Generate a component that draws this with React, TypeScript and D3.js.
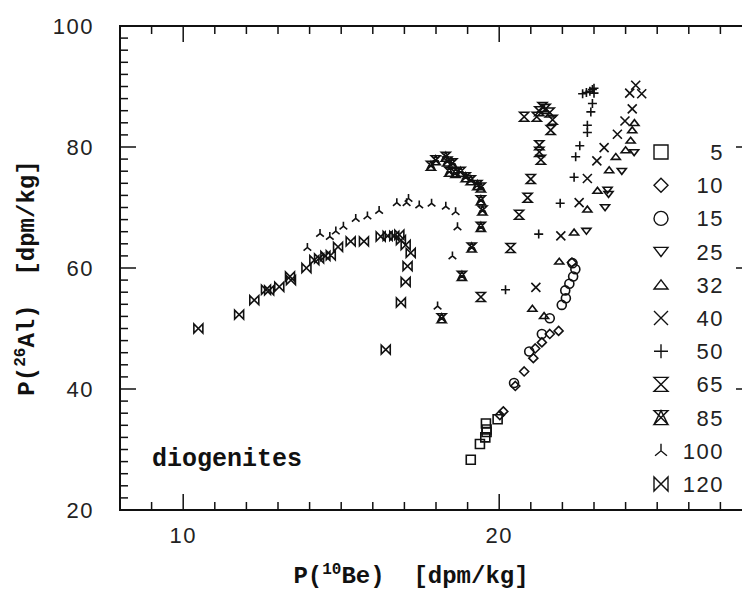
import { useEffect, useRef } from "react";
import * as d3 from "d3";

const W = 742;
const H = 590;

// radius (cm) of each series, legend order
const radii = [5, 10, 15, 25, 32, 40, 50, 65, 85, 100, 120];
const symbols = ["square", "diamond", "circle", "tdown", "tup", "cross", "plus", "hour", "hourtri", "tripod", "bowtie"];

// [P(10Be), P(26Al)]
const s5 = [[19.1, 28.3], [19.39, 30.9], [19.56, 32.0], [19.6, 32.9], [19.6, 33.3], [19.58, 34.3], [19.95, 35.0]];
const s10 = [[20.02, 35.7], [20.13, 36.3], [20.51, 40.5], [20.79, 42.9], [21.08, 45.1], [21.14, 46.7], [21.35, 47.7], [21.6, 49.1], [21.88, 49.6], [22.3, 60.9]];
const s15 = [[20.47, 41.0], [20.95, 46.2], [21.35, 49.1], [21.6, 51.7], [21.98, 53.9], [22.11, 55.0], [22.09, 56.3], [22.22, 57.4], [22.34, 58.6], [22.41, 59.8], [22.32, 60.8]];
const s25 = [[22.76, 66.1], [23.35, 70.0], [23.46, 72.2], [23.43, 72.9], [23.88, 76.0], [24.27, 79.1]];
const s32 = [[21.05, 53.3], [21.42, 52.1], [21.9, 61.1], [22.37, 65.9], [22.79, 69.7], [23.11, 72.8], [23.48, 76.2], [23.69, 78.4], [24.0, 79.5], [24.16, 81.1], [24.21, 82.8], [24.28, 84.0]];
const s40 = [[21.16, 56.8], [21.95, 65.3], [22.53, 70.8], [22.79, 74.8], [23.09, 77.7], [23.32, 79.9], [23.74, 82.1], [23.98, 84.3], [24.21, 86.3], [24.13, 88.9], [24.51, 88.8], [24.32, 90.2]];
const s50 = [[20.2, 56.4], [21.25, 65.6], [21.93, 70.7], [22.37, 75.0], [22.42, 78.4], [22.55, 80.2], [22.79, 82.4], [22.79, 83.6], [22.9, 85.8], [22.95, 87.2], [22.64, 88.8], [22.76, 89.0], [22.87, 89.2], [22.95, 89.5], [23.0, 89.7], [23.0, 88.9]];
const s65 = [[19.42, 55.2], [20.36, 63.3], [20.63, 68.8], [20.9, 71.6], [21.0, 74.7], [21.32, 77.9], [21.27, 79.2], [21.27, 80.3], [21.63, 82.8], [21.69, 84.5], [21.6, 85.7], [21.47, 86.3], [21.37, 86.6], [21.27, 85.9], [21.19, 85.0], [20.79, 85.0]];
const s85 = [[18.18, 51.7], [18.82, 58.7], [19.13, 63.4], [19.42, 66.8], [19.47, 69.5], [19.42, 71.2], [19.42, 73.3], [19.31, 73.7], [19.1, 74.5], [18.94, 75.0], [18.78, 75.9], [18.62, 75.7], [18.42, 75.9], [18.52, 77.3], [18.36, 77.6], [18.31, 78.4], [17.99, 77.8], [17.84, 76.9]];
const s100 = [[18.05, 53.7], [18.52, 62.0], [18.68, 66.8], [18.62, 69.3], [18.31, 70.2], [17.86, 70.7], [17.47, 70.4], [17.13, 71.5], [17.07, 70.8], [16.76, 70.8], [16.2, 69.5], [15.83, 68.6], [15.46, 68.2], [15.07, 66.9], [14.83, 66.1], [14.64, 65.2], [14.33, 65.7], [13.93, 63.4]];
const s120 = [[10.48, 50.0], [11.77, 52.3], [12.25, 54.7], [12.62, 56.4], [12.72, 56.3], [13.04, 56.9], [13.38, 58.6], [13.41, 58.0], [13.9, 60.0], [14.15, 61.3], [14.3, 61.6], [14.5, 62.0], [14.67, 62.1], [14.9, 63.5], [15.3, 64.4], [15.72, 64.4], [16.25, 65.2], [16.47, 65.3], [16.68, 65.3], [16.84, 65.5], [16.89, 64.6], [17.04, 63.8], [17.2, 62.5], [17.1, 60.3], [17.04, 57.7], [16.89, 54.3], [16.41, 46.5]];
const seriesData = [s5, s10, s15, s25, s32, s40, s50, s65, s85, s100, s120];

const xTicks = [10, 20];
const yTicks = [20, 40, 60, 80, 100];

const monoFont = "'Liberation Mono', 'DejaVu Sans Mono', monospace";
const sansFont = "'Liberation Sans', Arial, sans-serif";

function markerPath(type: string, h: number): string {
  const p = d3.path();
  switch (type) {
    case "square":
      p.rect(-h, -h, 2 * h, 2 * h);
      break;
    case "diamond":
      p.moveTo(0, -h); p.lineTo(h, 0); p.lineTo(0, h); p.lineTo(-h, 0); p.closePath();
      break;
    case "circle":
      p.moveTo(h, 0); p.arc(0, 0, h, 0, 2 * Math.PI);
      break;
    case "tdown":
      p.moveTo(-h, -h * 0.6); p.lineTo(h, -h * 0.6); p.lineTo(0, h * 0.7); p.closePath();
      break;
    case "tup":
      p.moveTo(-h, h * 0.6); p.lineTo(h, h * 0.6); p.lineTo(0, -h * 0.7); p.closePath();
      break;
    case "cross":
      p.moveTo(-h, -h); p.lineTo(h, h); p.moveTo(-h, h); p.lineTo(h, -h);
      break;
    case "plus":
      p.moveTo(-h, 0); p.lineTo(h, 0); p.moveTo(0, -h); p.lineTo(0, h);
      break;
    case "hour":
      p.moveTo(-h, -h); p.lineTo(h, -h); p.lineTo(-h, h); p.lineTo(h, h); p.closePath();
      break;
    case "hourtri":
      p.moveTo(-h, -h); p.lineTo(h, -h); p.lineTo(-h, h); p.lineTo(h, h); p.closePath();
      p.moveTo(-h, h); p.lineTo(0, -h); p.lineTo(h, h);
      break;
    case "tripod":
      p.moveTo(0, -h); p.lineTo(0, 0);
      p.moveTo(-h * 0.85, h * 0.7); p.lineTo(0, 0); p.lineTo(h * 0.85, h * 0.7);
      break;
    case "bowtie":
      p.moveTo(-h, -h); p.lineTo(-h, h); p.lineTo(h, -h); p.lineTo(h, h); p.closePath();
      break;
  }
  return p.toString();
}

export default function App() {
  const ref = useRef<SVGSVGElement>(null);

  useEffect(() => {
    const el = ref.current;
    if (!el) return;
    const svg = d3.select(el);
    svg.selectAll("*").remove();

    const x = d3.scaleLinear().domain([8, 28]).range([120, 752]);
    const y = d3.scaleLinear().domain([20, 100]).range([510, 26]);
    const [x0, x1] = x.range();
    const [y0, y1] = y.range();

    // frame
    svg.append("rect")
      .attr("x", x0).attr("y", y1).attr("width", x1 - x0).attr("height", y0 - y1)
      .attr("fill", "none").attr("stroke", "#111").attr("stroke-width", 2);

    const ticks = svg.append("g").attr("stroke", "#111").attr("stroke-width", 1.5);
    // x ticks, bottom and top
    d3.range(9, 28).forEach(v => {
      const len = v % 10 === 0 ? 16 : 8;
      ticks.append("line").attr("x1", x(v)).attr("x2", x(v)).attr("y1", y0).attr("y2", y0 - len);
      ticks.append("line").attr("x1", x(v)).attr("x2", x(v)).attr("y1", y1).attr("y2", y1 + len);
    });
    // y ticks, left and right
    d3.range(22, 100, 2).forEach(v => {
      const len = v % 20 === 0 ? 16 : 8;
      ticks.append("line").attr("x1", x0).attr("x2", x0 + len).attr("y1", y(v)).attr("y2", y(v));
      ticks.append("line").attr("x1", x1).attr("x2", x1 - len).attr("y1", y(v)).attr("y2", y(v));
    });

    // tick labels
    svg.append("g").selectAll("text").data(xTicks).join("text")
      .attr("x", d => x(d)).attr("y", 543)
      .attr("text-anchor", "middle")
      .attr("font-family", sansFont).attr("font-size", 22).attr("letter-spacing", 1.5)
      .attr("fill", "#222").text(d => d);

    svg.append("g").selectAll("text").data(yTicks).join("text")
      .attr("x", 94).attr("y", d => y(d) + 8)
      .attr("text-anchor", "end")
      .attr("font-family", sansFont).attr("font-size", 22).attr("letter-spacing", 1.5)
      .attr("fill", "#222").text(d => d);

    // axis titles
    const xt = svg.append("text")
      .attr("x", 411).attr("y", 583)
      .attr("text-anchor", "middle")
      .attr("font-family", monoFont).attr("font-weight", "bold").attr("font-size", 24)
      .attr("fill", "#111").style("white-space", "pre");
    xt.append("tspan").text("P(");
    xt.append("tspan").attr("font-size", 16).attr("dy", -9).text("10");
    xt.append("tspan").attr("dy", 9).text("Be)  [dpm/kg]");

    const yt = svg.append("text")
      .attr("transform", "translate(34,278) rotate(-90)")
      .attr("text-anchor", "middle")
      .attr("font-family", monoFont).attr("font-weight", "bold").attr("font-size", 24)
      .attr("fill", "#111").style("white-space", "pre");
    yt.append("tspan").text("P(");
    yt.append("tspan").attr("font-size", 16).attr("dy", -9).text("26");
    yt.append("tspan").attr("dy", 9).text("Al)  [dpm/kg]");

    svg.append("text")
      .attr("x", 152).attr("y", 466)
      .attr("font-family", monoFont).attr("font-weight", "bold").attr("font-size", 25)
      .attr("fill", "#111").text("diogenites");

    // data markers
    const marks = svg.append("g").attr("fill", "none").attr("stroke", "#111").attr("stroke-width", 1.6);
    seriesData.forEach((pts, i) => {
      const d = markerPath(symbols[i], 4.5);
      marks.append("g").selectAll("path").data(pts).join("path")
        .attr("transform", p => `translate(${x(p[0])},${y(p[1])})`)
        .attr("d", d);
    });

    // legend
    const leg = svg.append("g");
    radii.forEach((r, i) => {
      const ly = 152 + i * 33.2;
      leg.append("path")
        .attr("transform", `translate(661,${ly})`)
        .attr("d", markerPath(symbols[i], 7))
        .attr("fill", "none").attr("stroke", "#111").attr("stroke-width", 1.4);
      leg.append("text")
        .attr("x", 724).attr("y", ly + 8)
        .attr("text-anchor", "end")
        .attr("font-family", sansFont).attr("font-size", 22).attr("letter-spacing", 1.5)
        .attr("fill", "#222").text(r);
    });
  }, []);

  return (
    <svg ref={ref} width={W} height={H}
      style={{ position: "absolute", left: 0, top: 0, background: "#fff", display: "block" }} />
  );
}
